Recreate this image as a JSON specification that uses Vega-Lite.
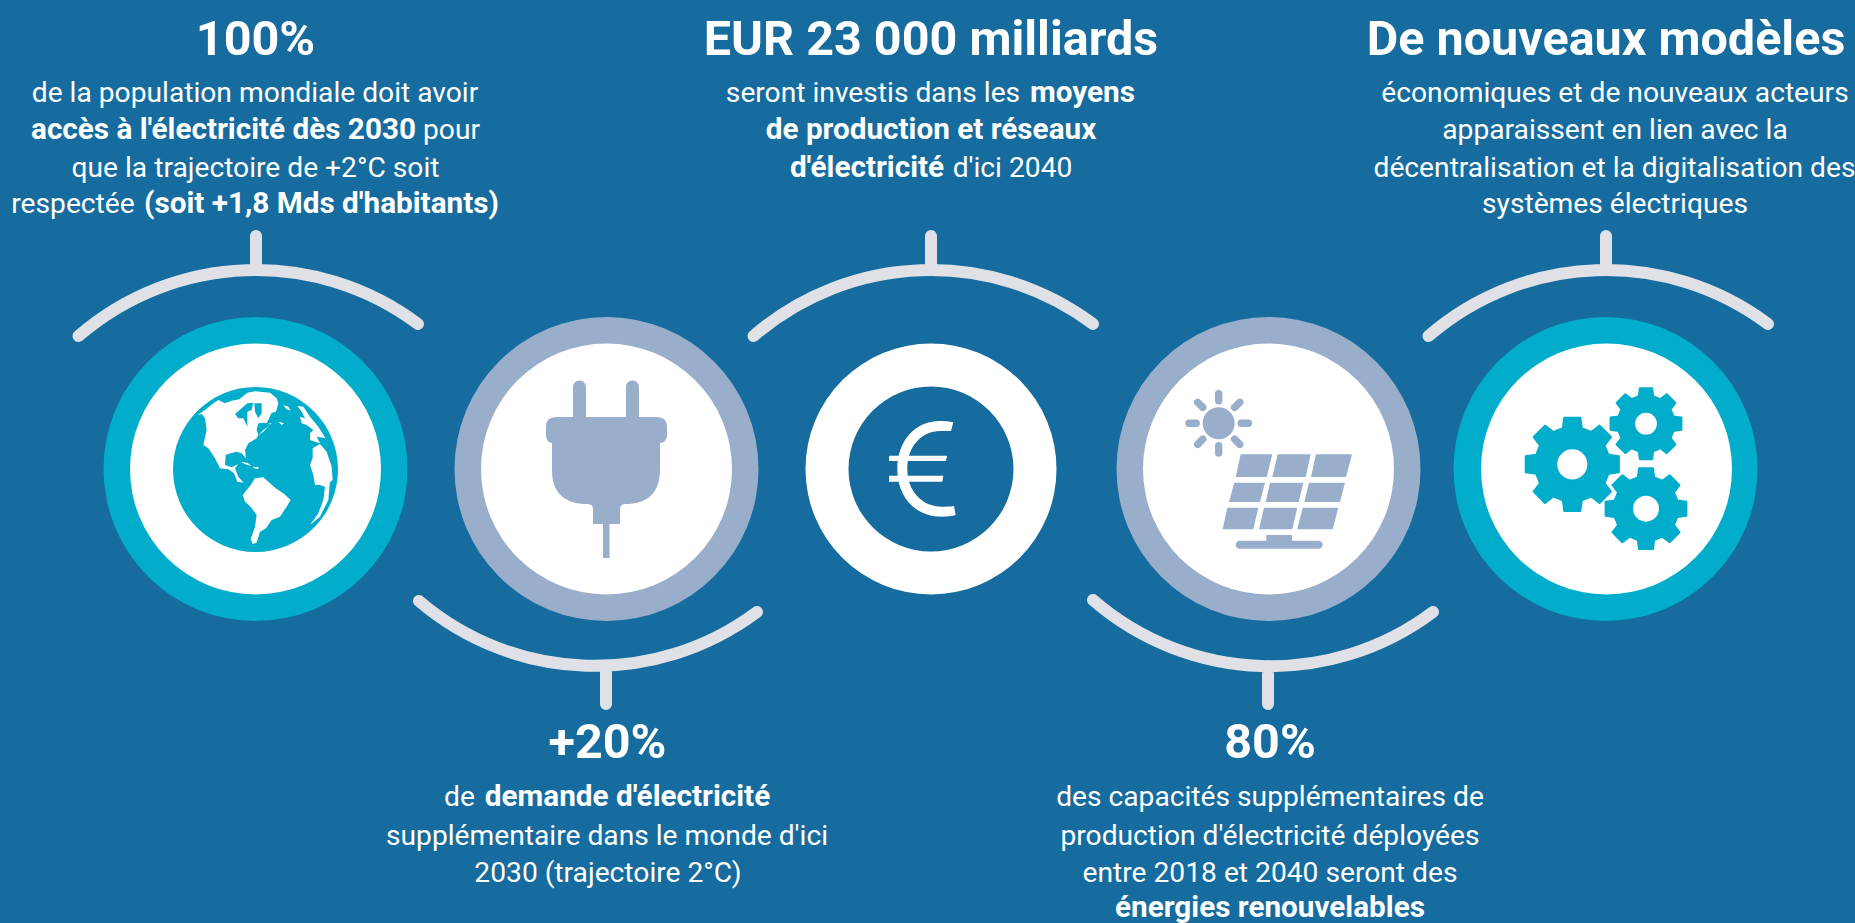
{"$schema":"https://vega.github.io/schema/vega-lite/v6.json","width":1855,"height":923,"padding":0,"autosize":{"type":"none"},"background":"#166c9e","config":{"view":{"stroke":null}},
"datasets":{
"texts":[
{"x":255.5,"y":55,"label":"100%","role":"title"},
{"x":607.5,"y":758,"label":"+20%","role":"title"},
{"x":931,"y":55,"label":"EUR 23 000 milliards","role":"title"},
{"x":1270,"y":758,"label":"80%","role":"title"},
{"x":1606,"y":55,"label":"De nouveaux modèles","role":"title"},
{"x":255,"y":102,"label":"de la population mondiale doit avoir","role":"regular"},
{"x":223.5,"y":139,"label":"accès à l'électricité dès 2030","role":"bold"},
{"x":451.5,"y":139,"label":"pour","role":"regular"},
{"x":255.5,"y":177,"label":"que la trajectoire de +2°C soit","role":"regular"},
{"x":73,"y":213,"label":"respectée","role":"regular"},
{"x":321.5,"y":213,"label":"(soit +1,8 Mds d'habitants)","role":"bold"},
{"x":459.5,"y":806,"label":"de","role":"regular"},
{"x":627.5,"y":806,"label":"demande d'électricité","role":"bold"},
{"x":607,"y":845,"label":"supplémentaire dans le monde d'ici","role":"regular"},
{"x":608,"y":882,"label":"2030 (trajectoire 2°C)","role":"regular"},
{"x":873,"y":102,"label":"seront investis dans les","role":"regular"},
{"x":1082.5,"y":102,"label":"moyens","role":"bold"},
{"x":931,"y":139,"label":"de production et réseaux","role":"bold"},
{"x":867,"y":177,"label":"d'électricité","role":"bold"},
{"x":1012.5,"y":177,"label":"d'ici 2040","role":"regular"},
{"x":1270,"y":806,"label":"des capacités supplémentaires de","role":"regular"},
{"x":1270,"y":845,"label":"production d'électricité déployées","role":"regular"},
{"x":1270,"y":882,"label":"entre 2018 et 2040 seront des","role":"regular"},
{"x":1270,"y":917,"label":"énergies renouvelables","role":"bold"},
{"x":1615,"y":102,"label":"économiques et de nouveaux acteurs","role":"regular"},
{"x":1615,"y":139,"label":"apparaissent en lien avec la","role":"regular"},
{"x":1614.5,"y":177,"label":"décentralisation et la digitalisation des","role":"regular"},
{"x":1615,"y":213,"label":"systèmes électriques","role":"regular"}
],
"topArcs":[{"x":256,"y":270},{"x":931,"y":270},{"x":1606,"y":270}],
"rings":[{"x":255.5,"y":469,"tone":"cyan"},{"x":606.5,"y":469,"tone":"slate"},{"x":1268.5,"y":469,"tone":"slate"},{"x":1605.5,"y":469,"tone":"cyan"}],
"discs":[{"x":255.5,"y":469},{"x":606.5,"y":469},{"x":931,"y":469},{"x":1268.5,"y":469},{"x":1606.5,"y":469}]
},
"encoding":{
"x":{"field":"x","type":"quantitative","scale":{"domain":[0,1855],"nice":false,"zero":false},"axis":null},
"y":{"field":"y","type":"quantitative","scale":{"domain":[0,923],"nice":false,"zero":false,"reverse":true},"axis":null}
},
"layer":[
{"data":{"name":"topArcs"},"mark":{"type":"point","shape":"M-177.5,66A271,271 0 0 1 162,54M0,-34L0,0","size":4,"filled":false,"stroke":"#dfe1e6","strokeWidth":12,"strokeCap":"round","opacity":1}},
{"data":{"values":[{"x":606,"y":666}]},"mark":{"type":"point","shape":"M-187,-65A271,271 0 0 0 151,-54M0,38L0,0","size":4,"filled":false,"stroke":"#dfe1e6","strokeWidth":12,"strokeCap":"round","opacity":1}},
{"data":{"values":[{"x":1268,"y":666}]},"mark":{"type":"point","shape":"M-175,-66A271,271 0 0 0 165,-54M0,38L0,0","size":4,"filled":false,"stroke":"#dfe1e6","strokeWidth":12,"strokeCap":"round","opacity":1}},
{"data":{"name":"rings"},"mark":{"type":"point","shape":"circle","size":92416,"filled":true,"opacity":1},"encoding":{"color":{"field":"tone","type":"nominal","scale":{"domain":["cyan","slate"],"range":["#02accb","#99aeca"]},"legend":null}}},
{"data":{"name":"discs"},"mark":{"type":"point","shape":"circle","size":63001,"filled":true,"color":"#ffffff","opacity":1}},
{"data":{"values":[{"x":255.5,"y":469.5}]},"mark":{"type":"point","shape":"circle","size":27225,"filled":true,"color":"#02accb","opacity":1}},
{"data":{"values":[{"x":160,"y":390}]},"mark":{"type":"point","size":0.4444,"filled":true,"color":"#ffffff","opacity":1,"shape":"M112,76L135,60L160,40L175,30L195,40L215,32L238,28L262,8L285,4L330,8L350,25L355,40L348,65L335,68L320,100L335,100L310,125L295,135L290,145L265,160L255,180L258,205L245,190L230,185L212,190L197,195L195,225L215,232L235,222L240,215L225,235L235,260L248,275L252,278L232,275L222,250L205,238L180,235L165,205L145,175L130,165L140,120L135,85L125,72ZM240,215L262,218L275,228L262,225ZM280,230L296,232L295,237L280,234ZM248,315L262,298L272,285L285,265L310,262L325,275L350,297L370,310L392,330L380,350L360,380L335,390L318,415L300,425L290,458L278,462L272,448L285,410L290,375L272,350L255,335ZM370,45L385,50L392,62L380,58ZM355,95L372,100L365,105ZM412,48L430,50L450,80L475,110L497,145L470,140L480,160L465,155L450,150L450,130L460,120L440,105L425,100L420,80L435,85L425,65ZM458,175L480,162L500,185L515,230L518,270L495,290L480,285L465,285L460,255L450,225L458,205ZM495,290L510,270L505,330L480,380L450,405L475,370L490,330Z"}},
{"data":{"values":[{"x":160,"y":390}]},"mark":{"type":"point","size":0.4444,"filled":true,"color":"#02accb","opacity":1,"shape":"M225,72L262,40L280,38L275,60L262,65L262,110L250,85L235,85ZM283,40L305,40L305,70L295,85L285,65ZM295,100L325,98L332,105L310,120L295,135L290,120Z"}},
{"data":{"values":[{"x":606,"y":469}]},"mark":{"type":"point","size":4,"filled":true,"color":"#99aeca","opacity":1,"shape":"M-33,-82A6.5,6.5 0 0 1 -20,-82L-20,-52L20,-52L20,-82A6.5,6.5 0 0 1 33,-82L33,-52L51,-52Q61,-52 61,-42L61,-34Q61,-27 54,-26L54,1C54,25 40,35 20,35Q14,35 14,40L14,55L3.5,55L3.5,89L-3,89L-3,55L-13,55L-13,40Q-13,35 -19,35C-40,35 -54,25 -54,1L-54,-26Q-60,-27 -60,-34L-60,-42Q-60,-52 -50,-52L-33,-52Z"}},
{"data":{"values":[{"x":931,"y":469}]},"mark":{"type":"point","shape":"circle","size":27225,"filled":true,"color":"#166c9e","opacity":1}},
{"data":{"values":[{"x":931,"y":469}]},"mark":{"type":"point","size":4,"filled":true,"color":"#ffffff","opacity":1,"shape":"M22.3,-46.7C18,-47.7 14,-48 9,-48C-16,-48 -33.7,-28 -33.7,0C-33.7,29 -15,47.7 11,47.7C16,47.7 21,47 24.7,46L23,37C19,37.7 15,37.7 11,37.7C-9,37.7 -23.7,22 -23.7,0C-23.7,-23 -9,-38 9,-38C13,-38 17,-38 20,-38ZM-42,-13.3L-42,-8L15,-8L16,-13.3ZM-42,6.7L-42,12.7L11.3,12.7L12.3,6.7Z"}},
{"data":{"values":[{"x":1268,"y":469}]},"mark":{"type":"point","size":4,"filled":true,"color":"#99aeca","opacity":1,"shape":"M-65.3,-45.7A16,16 0 1 1 -33.3,-45.7A16,16 0 1 1 -65.3,-45.7ZM-27.3,-14.7L4.3,-14.7L-1.3,8L-32.3,8ZM9.7,-14.7L42.7,-14.7L37.7,8L4.3,8ZM48,-14.7L84,-14.7L78,8L43,8ZM-33.7,13.7L-3,13.7L-8,33L-39,33ZM2,13.7L35.3,13.7L30.7,33L-2.3,33ZM41,13.7L77,13.7L72,33L36.3,33ZM-40.7,38.7L-9.7,38.7L-14.7,60.3L-45.3,60.3ZM-4,38.7L29.3,38.7L24.3,60.3L-9,60.3ZM34.7,38.7L70.3,38.7L64.7,60.3L29.3,60.3ZM-1.7,66L24,66L24,71.7L50.7,71.7A4,4 0 0 1 50.7,79.7L-28.3,79.7A4,4 0 0 1 -28.3,71.7L-1.7,71.7Z"}},
{"data":{"values":[{"x":1268,"y":469}]},"mark":{"type":"point","size":4,"filled":false,"stroke":"#99aeca","strokeWidth":7.4,"strokeCap":"round","opacity":1,"shape":"M-49.3,-68.2L-49.3,-75.4M-49.3,-23.2L-49.3,-16M-26.8,-45.7L-19.6,-45.7M-71.8,-45.7L-79,-45.7M-33.4,-61.6L-28.3,-66.7M-65.2,-61.6L-70.3,-66.7M-33.4,-29.8L-28.3,-24.7M-65.2,-29.8L-70.3,-24.7"}},
{"data":{"values":[{"x":1572.3,"y":464.3}]},"mark":{"type":"point","size":8949,"filled":true,"color":"#02accb","stroke":"#02accb","strokeWidth":2,"strokeJoin":"round","opacity":1,"shape":"M-0.2,-0.764L-0.17,-0.985L0.17,-0.985L0.2,-0.764L0.399,-0.682L0.576,-0.817L0.817,-0.576L0.682,-0.399L0.764,-0.2L0.985,-0.17L0.985,0.17L0.764,0.2L0.682,0.399L0.817,0.576L0.576,0.817L0.399,0.682L0.2,0.764L0.17,0.985L-0.17,0.985L-0.2,0.764L-0.399,0.682L-0.576,0.817L-0.817,0.576L-0.682,0.399L-0.764,0.2L-0.985,0.17L-0.985,-0.17L-0.764,-0.2L-0.682,-0.399L-0.817,-0.576L-0.576,-0.817L-0.399,-0.682ZM0.34,0C0.34,-0.188 0.188,-0.34 0,-0.34C-0.188,-0.34 -0.34,-0.188 -0.34,0C-0.34,0.188 -0.188,0.34 0,0.34C0.188,0.34 0.34,0.188 0.34,0Z"}},
{"data":{"values":[{"x":1646,"y":423.7}]},"mark":{"type":"point","size":5184,"filled":true,"color":"#02accb","stroke":"#02accb","strokeWidth":2,"strokeJoin":"round","opacity":1,"shape":"M-0.2,-0.764L-0.17,-0.985L0.17,-0.985L0.2,-0.764L0.399,-0.682L0.576,-0.817L0.817,-0.576L0.682,-0.399L0.764,-0.2L0.985,-0.17L0.985,0.17L0.764,0.2L0.682,0.399L0.817,0.576L0.576,0.817L0.399,0.682L0.2,0.764L0.17,0.985L-0.17,0.985L-0.2,0.764L-0.399,0.682L-0.576,0.817L-0.817,0.576L-0.682,0.399L-0.764,0.2L-0.985,0.17L-0.985,-0.17L-0.764,-0.2L-0.682,-0.399L-0.817,-0.576L-0.576,-0.817L-0.399,-0.682ZM0.33,0C0.33,-0.182 0.182,-0.33 0,-0.33C-0.182,-0.33 -0.33,-0.182 -0.33,0C-0.33,0.182 -0.182,0.33 0,0.33C0.182,0.33 0.33,0.182 0.33,0Z"}},
{"data":{"values":[{"x":1646,"y":508.7}]},"mark":{"type":"point","size":6724,"filled":true,"color":"#02accb","stroke":"#02accb","strokeWidth":2,"strokeJoin":"round","opacity":1,"shape":"M-0.2,-0.764L-0.17,-0.985L0.17,-0.985L0.2,-0.764L0.399,-0.682L0.576,-0.817L0.817,-0.576L0.682,-0.399L0.764,-0.2L0.985,-0.17L0.985,0.17L0.764,0.2L0.682,0.399L0.817,0.576L0.576,0.817L0.399,0.682L0.2,0.764L0.17,0.985L-0.17,0.985L-0.2,0.764L-0.399,0.682L-0.576,0.817L-0.817,0.576L-0.682,0.399L-0.764,0.2L-0.985,0.17L-0.985,-0.17L-0.764,-0.2L-0.682,-0.399L-0.817,-0.576L-0.576,-0.817L-0.399,-0.682ZM0.34,0C0.34,-0.188 0.188,-0.34 0,-0.34C-0.188,-0.34 -0.34,-0.188 -0.34,0C-0.34,0.188 -0.188,0.34 0,0.34C0.188,0.34 0.34,0.188 0.34,0Z"}},
{"data":{"name":"texts"},"transform":[{"filter":"datum.role === 'title'"}],"mark":{"type":"text","font":"Roboto","fontWeight":"bold","fontSize":48.5,"align":"center","baseline":"alphabetic","color":"#ffffff"},"encoding":{"text":{"field":"label"}}},
{"data":{"name":"texts"},"transform":[{"filter":"datum.role === 'regular'"}],"mark":{"type":"text","font":"Roboto","fontSize":28.2,"align":"center","baseline":"alphabetic","color":"#ffffff"},"encoding":{"text":{"field":"label"}}},
{"data":{"name":"texts"},"transform":[{"filter":"datum.role === 'bold'"}],"mark":{"type":"text","font":"Roboto","fontWeight":"bold","fontSize":29.7,"align":"center","baseline":"alphabetic","color":"#ffffff"},"encoding":{"text":{"field":"label"}}}
]}
